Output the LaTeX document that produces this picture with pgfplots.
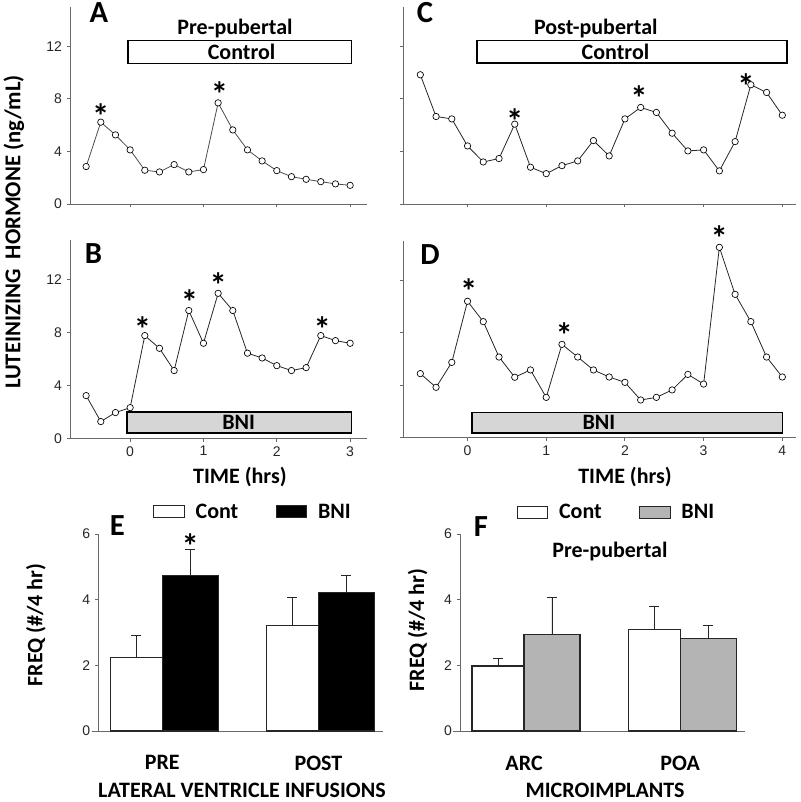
\documentclass[border=0pt]{standalone}
\usepackage{fontspec}
\setmainfont{Carlito}
\newfontfamily\arial{Liberation Sans}
\usepackage{pgfplots}
\pgfplotsset{compat=1.18}

\definecolor{axgray}{RGB}{105,105,105}
\definecolor{boxgray}{RGB}{214,214,214}
\definecolor{bargray}{RGB}{180,180,180}

\tikzset{
  lab/.style={font=\bfseries\fontsize{16.5}{18}\selectfont},
  star/.style={font=\bfseries\fontsize{26}{26}\selectfont, yshift=-7pt},
  plab/.style={font=\bfseries\fontsize{23}{23}\selectfont},
}
\pgfplotsset{
  panel/.style={scale only axis, axis x line*=bottom, axis y line*=left,
    axis line style={axgray,line width=0.7pt}, tick style={axgray,line width=0.7pt},
    tick align=outside, major tick length=2.5pt,
    tick label style={font=\arial\fontsize{10.5}{12}\selectfont, text=black!85},
    /pgf/number format/assume math mode=true, clip=false},
  ts/.style={panel, xmin=-0.82, ymin=0, ymax=15, ytick={0,4,8,12}},
  series/.style={black!85, line width=0.6pt, mark=*, mark size=2.4pt,
    mark options={fill=white, draw=black, line width=0.5pt}},
  bp/.style={panel, width=213.75pt, height=147.75pt, xmin=-0.41, xmax=1.415,
    ymin=0, ymax=6, ytick={0,2,4,6}, xtick={0,1}, xtick style={draw=none},
    x tick label style={font=\bfseries\fontsize{16.5}{18}\selectfont, text=black, yshift=-12.5pt},
    x axis line style={shorten <=-5pt},
    legend columns=2,
    legend style={draw=none, fill=none, anchor=center, font=\bfseries\fontsize{16.5}{18}\selectfont,
      /tikz/every odd column/.append style={column sep=6pt},
      /tikz/every even column/.append style={column sep=26pt}}},
  boxlegend/.style={legend image code/.code={\draw[##1] (0pt,-4.5pt) rectangle (23pt,4.5pt);}},
  barc/.style={ybar, bar shift=0pt, bar width=0.333, fill=white, draw=black!85, line width=0.8pt, boxlegend,
    error bars/.cd, y dir=plus, y explicit, error bar style={black!85,line width=0.6pt},
    error mark options={rotate=90, black!85, line width=0.6pt, mark size=3.75pt}},
  barb/.style={ybar, bar shift=0pt, bar width=0.3585, draw=black!85, line width=0.8pt, boxlegend,
    error bars/.cd, y dir=plus, y explicit, error bar style={black!85,line width=0.6pt},
    error mark options={rotate=90, black!85, line width=0.6pt, mark size=3.75pt}},
}

\begin{document}
\begin{tikzpicture}
\useasboundingbox (0,0) rectangle (600pt,601.5pt);

% ---------- A ----------
\begin{axis}[ts, at={(52.5pt,448.5pt)}, anchor=south west, width=222.75pt, height=147.75pt,
  xmax=3.23, xtick={0,1,2,3}, xticklabels={}]
\draw[fill=white, line width=1.2pt] (axis cs:-0.03,10.7) rectangle (axis cs:3.02,12.45);
\node[lab] at (axis cs:1.52,11.57) {Control};
\node[lab] at (axis cs:1.43,13.36) {Pre-pubertal};
\addplot[series, black!70] coordinates {(-0.6,2.85) (-0.4,6.23) (-0.2,5.26) (0.0,4.12) (0.2,2.57)
 (0.4,2.44) (0.6,3.00) (0.8,2.44) (1.0,2.62) (1.2,7.70) (1.4,5.64) (1.6,4.12) (1.8,3.28)
 (2.0,2.54) (2.2,2.08) (2.4,1.88) (2.6,1.70) (2.8,1.53) (3.0,1.42)};
\node[star] at (axis cs:-0.4,7.43) {*};
\node[star] at (axis cs:1.22,9.08) {*};
\end{axis}

% ---------- B ----------
\begin{axis}[ts, at={(52.5pt,272.8pt)}, anchor=south west, width=222.75pt, height=149.06pt,
  xmax=3.23, xtick={0,1,2,3},
  xlabel={TIME (hrs)}, xlabel style={lab, at={(axis description cs:0.572,-0.195)}, anchor=center}]
\draw[fill=boxgray, line width=1.2pt] (axis cs:-0.04,0.4) rectangle (axis cs:3.02,1.98);
\node[lab] at (axis cs:1.48,1.19) {BNI};
\addplot[series] coordinates {(-0.6,3.22) (-0.4,1.26) (-0.2,1.94) (0.0,2.31) (0.2,7.75)
 (0.4,6.79) (0.6,5.11) (0.8,9.64) (1.0,7.17) (1.2,10.94) (1.4,9.64) (1.6,6.42) (1.8,6.06)
 (2.0,5.48) (2.2,5.11) (2.4,5.33) (2.6,7.75) (2.8,7.37) (3.0,7.17)};
\node[star] at (axis cs:0.17,8.93) {*};
\node[star] at (axis cs:0.81,11.0) {*};
\node[star] at (axis cs:1.2,12.25) {*};
\node[star] at (axis cs:2.62,8.98) {*};
\end{axis}

% ---------- C ----------
\begin{axis}[ts, at={(302.25pt,448.5pt)}, anchor=south west, width=294.75pt, height=147.75pt,
  xmax=4.174, xtick={0,1,2,3,4}, xticklabels={}, yticklabels={}]
\draw[fill=white, line width=1.2pt] (axis cs:0.12,10.73) rectangle (axis cs:4.06,12.46);
\node[lab] at (axis cs:1.88,11.6) {Control};
\node[lab] at (axis cs:1.63,13.36) {Post-pubertal};
\addplot[series] coordinates {(-0.6,9.84) (-0.4,6.66) (-0.2,6.48) (0.0,4.42) (0.2,3.20)
 (0.4,3.46) (0.6,6.08) (0.8,2.80) (1.0,2.31) (1.2,2.92) (1.4,3.28) (1.6,4.83) (1.8,3.66)
 (2.0,6.48) (2.2,7.35) (2.4,6.97) (2.6,5.39) (2.8,4.04) (3.0,4.12) (3.2,2.52) (3.4,4.75)
 (3.6,9.08) (3.8,8.49) (4.0,6.76)};
\node[star] at (axis cs:0.6,7.05) {*};
\node[star] at (axis cs:2.18,8.75) {*};
\node[star] at (axis cs:3.54,9.72) {*};
\end{axis}

% ---------- D ----------
\begin{axis}[ts, at={(302.25pt,273.5pt)}, anchor=south west, width=294.75pt, height=146.9pt,
  xmax=4.174, xtick={0,1,2,3,4}, yticklabels={},
  xlabel={TIME (hrs)}, xlabel style={lab, at={(axis description cs:0.565,-0.203)}, anchor=center}]
\draw[fill=boxgray, line width=1.2pt] (axis cs:0.06,0.31) rectangle (axis cs:4.0,1.91);
\node[lab] at (axis cs:1.67,1.11) {BNI};
\addplot[series] coordinates {(-0.6,4.88) (-0.4,3.83) (-0.2,5.74) (0.0,10.42) (0.2,8.86)
 (0.4,6.15) (0.6,4.60) (0.8,5.16) (1.0,3.06) (1.2,7.12) (1.4,6.15) (1.6,5.16) (1.8,4.62)
 (2.0,4.21) (2.2,2.86) (2.4,3.06) (2.6,3.63) (2.8,4.82) (3.0,4.08) (3.2,14.55) (3.4,10.95)
 (3.6,8.86) (3.8,6.15) (4.0,4.62)};
\node[star] at (axis cs:0.015,11.9) {*};
\node[star] at (axis cs:1.23,8.52) {*};
\node[star] at (axis cs:3.2,16.0) {*};
\end{axis}

% ---------- E ----------
\begin{axis}[bp, at={(73.7pt,53.25pt)}, anchor=south west,
  xticklabels={PRE,POST},
  legend style={at={(0.544,1.112)}},
  xlabel={LATERAL VENTRICLE INFUSIONS},
  xlabel style={lab, at={(axis description cs:0.504,-0.303)}, anchor=center},
  ylabel={FREQ (\#/4 hr)},
  ylabel style={lab, at={(axis description cs:-0.219,0.538)}, anchor=center}]
\addplot[barc] coordinates {(-0.1665,2.23) +- (0,0.67) (0.8335,3.20) +- (0,0.87)};
\addlegendentry{Cont}
\addplot[fill=black, barb] coordinates {(0.179,4.73) +- (0,0.80) (1.179,4.21) +- (0,0.54)};
\addlegendentry{BNI}
\node[star] at (axis cs:0.179,5.92) {*};
\end{axis}

% ---------- F ----------
\begin{axis}[bp, at={(345pt,53.25pt)}, anchor=south west,
  xticklabels={ARC,POA},
  legend style={at={(0.55,1.11)}},
  xlabel={MICROIMPLANTS},
  xlabel style={lab, at={(axis description cs:0.509,-0.303)}, anchor=center},
  ylabel={FREQ (\#/4 hr)},
  ylabel style={lab, at={(axis description cs:-0.149,0.513)}, anchor=center}]
\addplot[barc] coordinates {(-0.1665,1.98) +- (0,0.23) (0.8335,3.09) +- (0,0.71)};
\addlegendentry{Cont}
\addplot[fill=bargray, barb] coordinates {(0.179,2.95) +- (0,1.12) (1.179,2.83) +- (0,0.40)};
\addlegendentry{BNI}
\node[lab] at (axis cs:0.55,5.46) {Pre-pubertal};
\end{axis}

% ---------- shared labels ----------
\node[font=\bfseries\fontsize{17}{18}\selectfont, rotate=90] at (10.5pt,427.5pt) {LUTEINIZING\ \ HORMONE (ng/mL)};
\node[plab] at (74.25pt,591.75pt) {A};
\node[plab] at (70.1pt,411pt) {B};
\node[plab] at (318.75pt,592.1pt) {C};
\node[plab] at (322.5pt,410.25pt) {D};
\node[plab] at (88.1pt,207.4pt) {E};
\node[plab] at (360.75pt,206.6pt) {F};
\end{tikzpicture}
\end{document}
